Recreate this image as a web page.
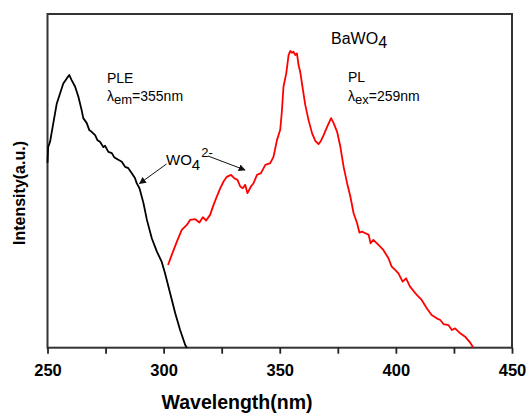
<!DOCTYPE html>
<html lang="en">
  <head>
    <meta charset="UTF-8" />
    <title>BaWO4 PLE / PL</title>
    <style>
      body {
        margin: 0;
        background: #fff;
      }
      svg {
        display: block;
        font-family: "Liberation Sans", Arial, sans-serif;
      }
      .tick-label {
        font-size: 16.5px;
        font-weight: bold;
      }
      .axis-title {
        font-weight: bold;
      }
      .note {
        font-size: 14px;
      }
    </style>
    <script src="https://d3js.org/d3.v7.min.js"></script>
  </head>
  <body>
    <div id="chart"></div>
    <script>
      // excitation spectrum (black), lambda em = 355 nm
      const pleWavelength = [
        250, 250.3, 251.1, 252.5, 254.0, 255.4, 256.8, 258.3, 259.4, 260.4,
        261.9, 263.3, 264.7, 265.4, 266.9, 268.0, 269.0, 270.5, 271.5, 272.6,
        274.1, 274.8, 276.2, 277.7, 278.7, 280.1, 282.0, 283.4, 284.8, 286.3,
        287.7, 288.4, 289.6, 291.3, 292.8, 294.9, 297.1, 299.2, 300.6, 302.8,
        305.0, 307.1, 309.3, 310.0
      ];
      const pleIntensity = [
        55.4, 60.2, 61.7, 67.3, 73.2, 76.2, 79.2, 80.7, 81.7, 80.2,
        78.2, 75.2, 71.2, 68.8, 67.3, 65.2, 64.7, 63.7, 62.2, 61.7,
        60.1, 60.5, 58.7, 58.3, 57.1, 56.5, 55.7, 54.2, 53.8, 52.3,
        50.8, 49.3, 47.8, 43.4, 38.3, 32.8, 28.8, 25.7, 22.3, 16.3,
        10.3, 5.3, 0.8, 0
      ];

      // emission spectrum (red), lambda ex = 259 nm
      const plWavelength = [
        301.9, 303.5, 305.7, 307.8, 310.0, 311.4, 313.6, 315.4, 316.9, 318.3,
        320.0, 321.5, 322.9, 324.4, 325.8, 327.2, 329.0, 330.4, 331.8, 333.0,
        334.1, 335.1, 336.1, 337.6, 338.7, 340.2, 341.9, 343.8, 345.9, 347.3,
        348.8, 350.2, 350.9, 351.6, 352.8, 353.8, 354.5, 355.3, 355.9, 356.7,
        357.4, 358.1, 358.8, 360.0, 361.0, 362.4, 363.9, 365.3, 366.7, 367.5,
        368.9, 370.3, 372.1, 373.2, 374.7, 376.1, 377.5, 379.0, 380.4, 381.8,
        383.3, 384.3, 385.4, 386.9, 388.3, 389.1, 390.3, 392.5, 394.6, 396.8,
        398.2, 399.7, 401.1, 402.9, 404.4, 406.1, 409.0, 411.1, 413.3, 415.4,
        417.6, 419.1, 420.5, 422.6, 424.1, 425.5, 427.7, 429.8, 432.0, 433.4
      ];
      const plIntensity = [
        24.8, 27.8, 31.8, 35.3, 36.8, 38.3, 38.5, 37.5, 39.1, 38.1,
        39.8, 42.8, 45.3, 47.8, 49.8, 51.2, 51.8, 50.8, 50.3, 48.3,
        47.8, 48.8, 46.3, 48.3, 49.3, 51.8, 52.3, 54.8, 55.3, 57.2,
        62.2, 65.3, 70.7, 78.2, 82.2, 87.7, 88.9, 88.4, 88.7, 87.7,
        88.2, 84.7, 82.7, 77.2, 72.7, 68.2, 64.3, 62.0, 61.0, 61.7,
        63.7, 66.0, 68.8, 67.3, 64.7, 60.2, 54.2, 49.3, 45.3, 40.3,
        37.3, 34.5, 34.8, 34.3, 33.8, 31.3, 32.3, 30.8, 29.3, 26.8,
        24.3, 23.3, 22.3, 19.8, 20.8, 18.3, 15.8, 14.3, 11.8, 9.8,
        8.8, 8.3, 7.1, 6.8, 5.3, 5.8, 4.3, 3.3, 1.5, 0
      ];

      const xTicks = [250, 300, 350, 400, 450];
      const xMinorTicks = [275, 325, 375, 425];

      const width = 526;
      const height = 413;
      const margin = { top: 14, right: 14, bottom: 65.3, left: 47.5 };

      const svg = d3
        .select("#chart")
        .append("svg")
        .attr("width", width)
        .attr("height", height);

      const x = d3
        .scaleLinear()
        .domain([250, 450])
        .range([margin.left, width - margin.right]);

      const y = d3
        .scaleLinear()
        .domain([0, 100])
        .range([height - margin.bottom, margin.top]);

      // plot area box
      svg
        .append("rect")
        .attr("x", x(250))
        .attr("y", y(100))
        .attr("width", x(450) - x(250))
        .attr("height", y(0) - y(100))
        .style("fill", "none")
        .style("stroke", "#333333")
        .style("stroke-width", "2px");

      const line = d3
        .line()
        .x((d) => x(d[0]))
        .y((d) => y(d[1]));

      svg
        .append("path")
        .datum(d3.zip(pleWavelength, pleIntensity))
        .attr("d", line)
        .attr("fill", "none")
        .attr("stroke", "#000")
        .attr("stroke-width", 1.8)
        .attr("stroke-linejoin", "round");

      svg
        .append("path")
        .datum(d3.zip(plWavelength, plIntensity))
        .attr("d", line)
        .attr("fill", "none")
        .attr("stroke", "#ff0000")
        .attr("stroke-width", 1.8)
        .attr("stroke-linejoin", "round");

      // bottom axis: outward ticks, major + minor
      const axis = svg
        .append("g")
        .attr("transform", `translate(0,${y(0)})`)
        .call(
          d3
            .axisBottom(x)
            .tickValues(xTicks.concat(xMinorTicks))
            .tickSize(6)
            .tickFormat((d) => (xTicks.includes(d) ? d : ""))
        );
      axis.select(".domain").remove();
      axis
        .selectAll(".tick line")
        .attr("stroke", "#222")
        .attr("stroke-width", 1.8);
      axis
        .selectAll(".tick text")
        .attr("class", "tick-label")
        .attr("fill", "#000")
        .attr("y", 17)
        .style("font-family", "'Liberation Sans', Arial, sans-serif");

      // axis titles
      svg
        .append("text")
        .attr("class", "axis-title")
        .attr("x", 237)
        .attr("y", 408.5)
        .attr("text-anchor", "middle")
        .style("font-size", "19.5px")
        .text("Wavelength(nm)");

      svg
        .append("text")
        .attr("class", "axis-title")
        .attr("transform", "translate(25,193) rotate(-90)")
        .attr("text-anchor", "middle")
        .style("font-size", "16px")
        .text("Intensity(a.u.)");

      // annotations
      const bawo = svg
        .append("text")
        .attr("x", 331)
        .attr("y", 43.5)
        .style("font-size", "16px");
      bawo.append("tspan").text("BaWO");
      bawo.append("tspan").attr("dy", 4.5).text("4");

      svg.append("text").attr("class", "note").attr("x", 107).attr("y", 83).text("PLE");
      const em = svg.append("text").attr("class", "note").attr("x", 107).attr("y", 101);
      em.append("tspan").text("λ");
      em.append("tspan").attr("dy", 3).style("font-size", "13px").text("em");
      em.append("tspan").attr("dy", -3).text("=355nm");

      svg.append("text").attr("class", "note").attr("x", 348).attr("y", 82).text("PL");
      const ex = svg.append("text").attr("class", "note").attr("x", 348).attr("y", 101);
      ex.append("tspan").text("λ");
      ex.append("tspan").attr("dy", 3).style("font-size", "13px").text("ex");
      ex.append("tspan").attr("dy", -3).text("=259nm");

      const wo = svg.append("text").attr("class", "note").attr("x", 166).attr("y", 164.5).style("font-size", "15px");
      wo.append("tspan").text("WO");
      wo.append("tspan").attr("dy", 5).text("4");
      wo.append("tspan").attr("dx", 1).attr("dy", -13).style("font-size", "13px").text("2-");

      svg
        .append("defs")
        .append("marker")
        .attr("id", "arrow")
        .attr("viewBox", "0 0 10 10")
        .attr("refX", 9)
        .attr("refY", 5)
        .attr("markerWidth", 7)
        .attr("markerHeight", 7)
        .attr("markerUnits", "userSpaceOnUse")
        .attr("orient", "auto")
        .append("path")
        .attr("d", "M0,0 L10,5 L0,10 z")
        .attr("fill", "#111");

      const arrows = [
        [166.5, 164, 139.5, 183.5],
        [208, 156, 245, 170]
      ];
      svg
        .selectAll(".arrow")
        .data(arrows)
        .enter()
        .append("line")
        .attr("class", "arrow")
        .attr("x1", (d) => d[0])
        .attr("y1", (d) => d[1])
        .attr("x2", (d) => d[2])
        .attr("y2", (d) => d[3])
        .attr("stroke", "#111")
        .attr("stroke-width", 1)
        .attr("marker-end", "url(#arrow)");
    </script>
  </body>
</html>
